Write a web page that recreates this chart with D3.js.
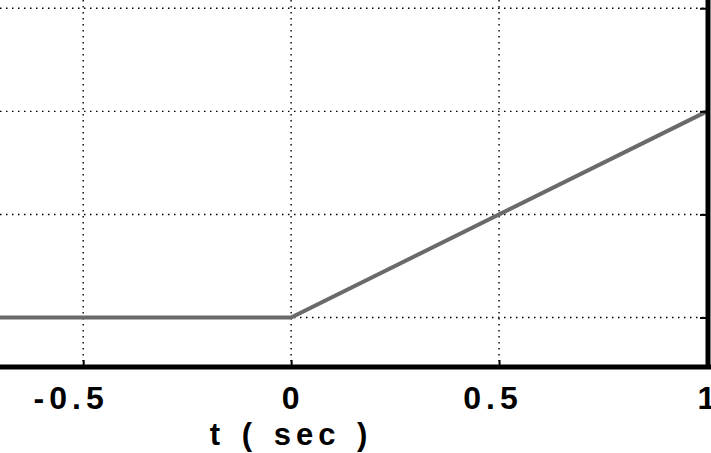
<!DOCTYPE html>
<html>
<head>
<meta charset="utf-8">
<script src="https://cdn.jsdelivr.net/npm/d3@7"></script>
<style>
  html, body { margin: 0; padding: 0; background: #fff; }
  #chart { width: 711px; height: 453px; overflow: hidden; }
  .tick-label, .axis-title {
    font-family: 'Liberation Sans', Arial, sans-serif;
    font-weight: bold;
    fill: #000;
  }
</style>
</head>
<body>
<div id="chart"></div>
<script>
// Ramp signal r(t): flat at zero before t = 0, then rising with slope 1
var tValues = [-0.7, 0, 1];
var rValues = [0, 0, 1];

// Axis ticks and labels
var xTicks = [-0.5, 0, 0.5, 1];
var xTickLabels = ['-0.5', '0', '0.5', '1'];
var yTicks = [0, 0.5, 1, 1.5];
var xTitle = 't ( sec )';

// Visible part of the axes (the figure is cropped)
var xDomain = [-0.7, 1];
var yDomain = [-0.24, 1.54];

var margin = {top: 0, right: 4, bottom: 86, left: 0};
var width = 711 - margin.left - margin.right;
var height = 453 - margin.top - margin.bottom;

var svg = d3.select('#chart').append('svg')
    .attr('width', 711)
    .attr('height', 453);

var plotArea = svg.append('g')
    .attr('transform', `translate(${margin.left}, ${margin.top})`);

var scales = {
  x: d3.scaleLinear().domain(xDomain).range([0, width]),
  y: d3.scaleLinear().domain(yDomain).range([height, 0])
};

// Dotted grid
plotArea.append('g')
  .selectAll('line')
  .data(xTicks)
  .join('line')
    .attr('x1', d => scales.x(d))
    .attr('x2', d => scales.x(d))
    .attr('y1', 0)
    .attr('y2', height)
    .attr('stroke', '#000')
    .attr('stroke-width', 1.4)
    .attr('stroke-dasharray', '1.5,4.5');

plotArea.append('g')
  .selectAll('line')
  .data(yTicks)
  .join('line')
    .attr('x1', 0)
    .attr('x2', width)
    .attr('y1', d => scales.y(d))
    .attr('y2', d => scales.y(d))
    .attr('stroke', '#000')
    .attr('stroke-width', 1.4)
    .attr('stroke-dasharray', '1.5,4.5');

// The ramp
var line = d3.line()
  .x((d, i) => scales.x(tValues[i]))
  .y(d => scales.y(d));

plotArea.append('path')
  .datum(rValues)
  .attr('d', line)
  .attr('fill', 'none')
  .attr('stroke', '#6a6a6a')
  .attr('stroke-width', 4);

// Bottom axis with inward ticks
var xAxisGroup = plotArea.append('g')
  .attr('transform', `translate(0, ${height})`)
  .call(d3.axisBottom(scales.x).tickValues(xTicks).tickSize(-7).tickFormat(''));
xAxisGroup.select('.domain').remove();
xAxisGroup.selectAll('.tick line').attr('stroke', '#000').attr('stroke-width', 2);

plotArea.append('line')
  .attr('x1', 0)
  .attr('x2', width + 4)
  .attr('y1', height)
  .attr('y2', height)
  .attr('stroke', '#000')
  .attr('stroke-width', 5);

// Right frame with inward ticks
var yAxisGroup = plotArea.append('g')
  .attr('transform', `translate(${width}, 0)`)
  .call(d3.axisRight(scales.y).tickValues(yTicks).tickSize(-7).tickFormat(''));
yAxisGroup.select('.domain').remove();
yAxisGroup.selectAll('.tick line').attr('stroke', '#000').attr('stroke-width', 2);

plotArea.append('line')
  .attr('x1', width + 1)
  .attr('x2', width + 1)
  .attr('y1', 0)
  .attr('y2', height + 2)
  .attr('stroke', '#000')
  .attr('stroke-width', 5);

// Tick labels (the last one runs off the cropped right edge, as in the source)
plotArea.append('g')
  .selectAll('text')
  .data(xTicks)
  .join('text')
    .attr('class', 'tick-label')
    .attr('x', d => scales.x(d))
    .attr('y', height + 42)
    .attr('dx', (d, i) => i === 0 ? -12 : (i === 2 ? -6 : 2))
    .attr('text-anchor', 'middle')
    .attr('font-size', 32)
    .attr('letter-spacing', 5)
    .text((d, i) => xTickLabels[i]);

// Axis title
plotArea.append('text')
  .attr('class', 'axis-title')
  .attr('x', scales.x(0))
  .attr('y', height + 78)
  .attr('text-anchor', 'middle')
  .attr('font-size', 31)
  .attr('letter-spacing', 5)
  .attr('word-spacing', 3)
  .text(xTitle);
</script>
</body>
</html>
